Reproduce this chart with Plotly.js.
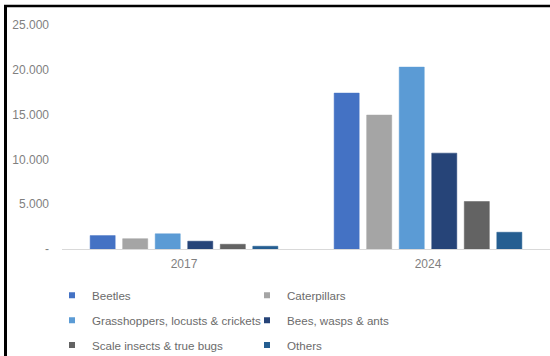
<!DOCTYPE html>
<html>
<head>
<meta charset="utf-8">
<script src="https://cdn.plot.ly/plotly-3.0.1.min.js"></script>
<style>html,body{margin:0;padding:0;background:#fff;}#chart{width:550px;height:356px;}</style>
</head>
<body>
<div id="chart"></div>
<script>
const years = ['2017', '2024'];
const seriesNames = ['Beetles', 'Caterpillars', 'Grasshoppers, locusts & crickets', 'Bees, wasps & ants', 'Scale insects & true bugs', 'Others'];
const beetles = [1500, 17400];
const caterpillars = [1150, 14950];
const grasshoppers = [1700, 20300];
const bees = [870, 10700];
const scaleInsects = [530, 5300];
const others = [310, 1870];
const yTickVals = [0, 5000, 10000, 15000, 20000, 25000];
const yTickText = ['-', '5.000', '10.000', '15.000', '20.000', '25.000'];

const colors = ['#4472C4', '#A5A5A5', '#5B9BD5', '#264478', '#636363', '#255E91'];
const values = [beetles, caterpillars, grasshoppers, bees, scaleInsects, others];
const legendIds = ['legend', 'legend', 'legend2', 'legend2', 'legend3', 'legend3'];

const traces = [];
values.forEach((v, i) => {
  traces.push({
    type: 'bar', x: years, y: v, name: seriesNames[i],
    marker: {color: colors[i], line: {color: colors[i], width: 0.5}},
    showlegend: false, hoverinfo: 'x+y+name'
  });
});
values.forEach((v, i) => {
  traces.push({
    type: 'scatter', mode: 'markers', x: [null], y: [null], name: seriesNames[i],
    marker: {symbol: 'square', size: 6, color: colors[i]},
    legend: legendIds[i], showlegend: true
  });
});

const pl = 62, pr = 550, pt = 24.5, pb = 249.5;
const px2x = p => (p - pl) / (pr - pl);
const py2y = p => (pb - p) / (pb - pt);
const legFont = {family: 'Liberation Sans, Arial, sans-serif', size: 11.6, color: '#6b6b6b'};
const legBase = {orientation: 'h', xanchor: 'left', yanchor: 'middle', x: px2x(52), entrywidth: 150, font: legFont, bgcolor: 'rgba(0,0,0,0)', borderwidth: 0};

const layout = {
  width: 550, height: 356,
  margin: {l: pl, r: 550 - pr, t: pt, b: 356 - pb, pad: 0, autoexpand: false},
  paper_bgcolor: '#ffffff', plot_bgcolor: '#ffffff',
  barmode: 'group', bargap: 0.2, bargroupgap: 0.23,
  font: {family: 'Liberation Sans, Arial, sans-serif', size: 12, color: '#7f7f7f'},
  xaxis: {
    type: 'category', showgrid: false, zeroline: false,
    showline: true, linecolor: '#d9d9d9', linewidth: 1,
    ticks: '', ticklabelstandoff: 4, tickfont: {size: 12, color: '#7f7f7f'}, fixedrange: true
  },
  yaxis: {
    range: [0, 25000], showgrid: false, zeroline: false, showline: false,
    tickmode: 'array', tickvals: yTickVals, ticktext: yTickText,
    ticks: '', ticklabelstandoff: 12,
    tickfont: {size: 12, color: '#7f7f7f'}, fixedrange: true
  },
  legend: Object.assign({}, legBase, {y: py2y(296)}),
  legend2: Object.assign({}, legBase, {y: py2y(321)}),
  legend3: Object.assign({}, legBase, {y: py2y(346)}),
  shapes: [
    {type: 'line', xref: 'paper', yref: 'paper', x0: px2x(5.5), x1: px2x(5.5), y0: py2y(4.5), y1: py2y(360), line: {color: '#000', width: 3}},
    {type: 'line', xref: 'paper', yref: 'paper', x0: px2x(4), x1: px2x(552), y0: py2y(5.5), y1: py2y(5.5), line: {color: '#000', width: 2.5}}
  ],
  showlegend: true
};

Plotly.newPlot('chart', traces, layout, {displayModeBar: false, staticPlot: true});
</script>
</body>
</html>
